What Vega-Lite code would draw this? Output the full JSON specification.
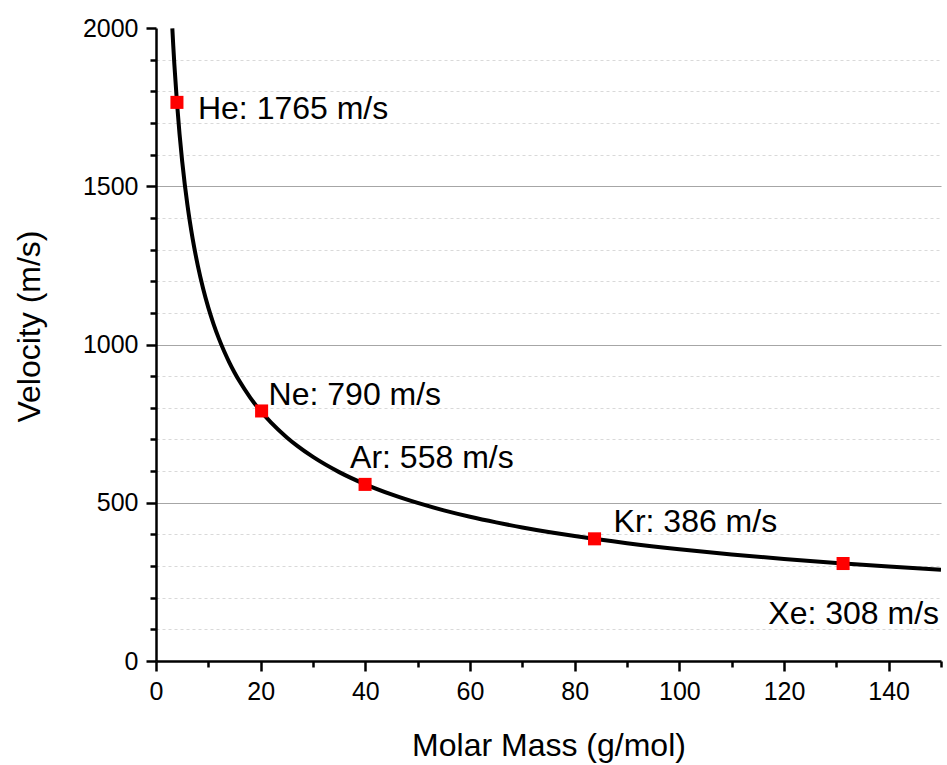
{
  "$schema": "https://vega.github.io/schema/vega-lite/v6.json",
  "width": 785,
  "height": 633,
  "autosize": "none",
  "padding": {"left": 156, "top": 28, "right": 6, "bottom": 104},
  "background": "white",
  "config": {
    "view": {"stroke": null},
    "font": "Liberation Sans",
    "text": {"font": "Liberation Sans"}
  },
  "datasets": {
    "curve": [
      {"M": 3.12, "v": 1999}, {"M": 3.3, "v": 1943.7}, {"M": 3.5, "v": 1887}, {"M": 4, "v": 1765.5},
      {"M": 4.5, "v": 1664.6}, {"M": 5, "v": 1579}, {"M": 5.5, "v": 1505.6}, {"M": 6, "v": 1441.5},
      {"M": 6.5, "v": 1385}, {"M": 7, "v": 1334.6}, {"M": 8, "v": 1248.4}, {"M": 9, "v": 1177},
      {"M": 10, "v": 1116.6}, {"M": 11, "v": 1064.6}, {"M": 12, "v": 1019.3}, {"M": 13, "v": 979.3},
      {"M": 14, "v": 943.7}, {"M": 15, "v": 911.7}, {"M": 16, "v": 882.8}, {"M": 18, "v": 832.3},
      {"M": 20, "v": 789.6}, {"M": 22, "v": 752.8}, {"M": 25, "v": 706.2}, {"M": 27, "v": 679.5},
      {"M": 30, "v": 644.7}, {"M": 35, "v": 596.8}, {"M": 40, "v": 558.3}, {"M": 45, "v": 526.4},
      {"M": 50, "v": 499.4}, {"M": 55, "v": 476.1}, {"M": 60, "v": 455.8}, {"M": 65, "v": 438.0},
      {"M": 70, "v": 422.0}, {"M": 75, "v": 407.7}, {"M": 80, "v": 394.8}, {"M": 90, "v": 372.2},
      {"M": 100, "v": 353.1}, {"M": 110, "v": 336.7}, {"M": 120, "v": 322.3}, {"M": 130, "v": 309.7},
      {"M": 140, "v": 298.4}, {"M": 150, "v": 288.3}
    ],
    "gases": [
      {"gas": "He", "M": 4.0026, "v": 1765, "label": "He: 1765 m/s"},
      {"gas": "Ne", "M": 20.18, "v": 790, "label": "Ne: 790 m/s"},
      {"gas": "Ar", "M": 39.95, "v": 558, "label": "Ar: 558 m/s"},
      {"gas": "Kr", "M": 83.8, "v": 386, "label": "Kr: 386 m/s"},
      {"gas": "Xe", "M": 131.29, "v": 308, "label": "Xe: 308 m/s"}
    ]
  },
  "encoding": {
    "x": {
      "field": "M", "type": "quantitative",
      "scale": {"domain": [0, 150], "nice": false, "zero": false},
      "axis": {
        "title": "Molar Mass (g/mol)",
        "values": [0, 10, 20, 30, 40, 50, 60, 70, 80, 90, 100, 110, 120, 130, 140, 150],
        "labelExpr": "datum.value % 20 === 0 ? datum.label : ''",
        "format": "d",
        "grid": false,
        "domainColor": "black", "domainWidth": 2.5,
        "tickColor": "black", "tickWidth": 2.5,
        "tickSize": {"condition": {"test": "datum.value % 20 === 0", "value": 10}, "value": 6},
        "labelFont": "Liberation Sans", "labelFontSize": 25, "labelColor": "black", "labelPadding": 8,
        "labelFlush": false, "labelOverlap": false, "labelBound": false,
        "titleFont": "Liberation Sans", "titleFontSize": 32, "titleFontWeight": "normal", "titleColor": "black",
        "titlePadding": 26
      }
    },
    "y": {
      "field": "v", "type": "quantitative",
      "scale": {"domain": [0, 2000], "nice": false},
      "axis": {
        "title": "Velocity (m/s)",
        "values": [0, 100, 200, 300, 400, 500, 600, 700, 800, 900, 1000, 1100, 1200, 1300, 1400, 1500, 1600, 1700, 1800, 1900, 2000],
        "labelExpr": "datum.value % 500 === 0 ? datum.label : ''",
        "format": "d",
        "grid": true,
        "gridColor": {"condition": {"test": "datum.value % 500 === 0", "value": "#a6a6a6"}, "value": "#d9d9d9"},
        "gridDash": {"condition": {"test": "datum.value % 500 === 0", "value": []}, "value": [3, 3]},
        "gridOpacity": {"condition": {"test": "datum.value === 2000 || datum.value === 0", "value": 0}, "value": 1},
        "gridWidth": 1.2,
        "domainColor": "black", "domainWidth": 2.5,
        "tickColor": "black", "tickWidth": 2.5,
        "tickSize": {"condition": {"test": "datum.value % 500 === 0", "value": 10}, "value": 6},
        "labelFont": "Liberation Sans", "labelFontSize": 25, "labelColor": "black", "labelPadding": 8,
        "labelFlush": false, "labelOverlap": false, "labelBound": false,
        "titleFont": "Liberation Sans", "titleFontSize": 32, "titleFontWeight": "normal", "titleColor": "black",
        "titlePadding": 36,
        "titleY": 298
      }
    }
  },
  "layer": [
    {
      "data": {"name": "curve"},
      "mark": {"type": "line", "color": "black", "strokeWidth": 4, "interpolate": "monotone", "clip": true}
    },
    {
      "data": {"name": "gases"},
      "mark": {"type": "point", "shape": "square", "filled": true, "color": "#ff0000", "size": 170, "opacity": 1}
    },
    {
      "data": {"name": "gases"},
      "transform": [{"filter": "datum.gas === 'He'"}],
      "mark": {"type": "text", "fontSize": 32, "color": "black", "align": "left", "baseline": "alphabetic", "dx": 21, "dy": 17},
      "encoding": {"text": {"field": "label"}}
    },
    {
      "data": {"name": "gases"},
      "transform": [{"filter": "datum.gas === 'Ne'"}],
      "mark": {"type": "text", "fontSize": 32, "color": "black", "align": "left", "baseline": "alphabetic", "dx": 7, "dy": -6},
      "encoding": {"text": {"field": "label"}}
    },
    {
      "data": {"name": "gases"},
      "transform": [{"filter": "datum.gas === 'Ar'"}],
      "mark": {"type": "text", "fontSize": 32, "color": "black", "align": "left", "baseline": "alphabetic", "dx": -15, "dy": -16},
      "encoding": {"text": {"field": "label"}}
    },
    {
      "data": {"name": "gases"},
      "transform": [{"filter": "datum.gas === 'Kr'"}],
      "mark": {"type": "text", "fontSize": 32, "color": "black", "align": "left", "baseline": "alphabetic", "dx": 19, "dy": -7},
      "encoding": {"text": {"field": "label"}}
    },
    {
      "data": {"name": "gases"},
      "transform": [{"filter": "datum.gas === 'Xe'"}],
      "mark": {"type": "text", "fontSize": 32, "color": "black", "align": "right", "baseline": "alphabetic", "dx": 96, "dy": 60},
      "encoding": {"text": {"field": "label"}}
    }
  ]
}
